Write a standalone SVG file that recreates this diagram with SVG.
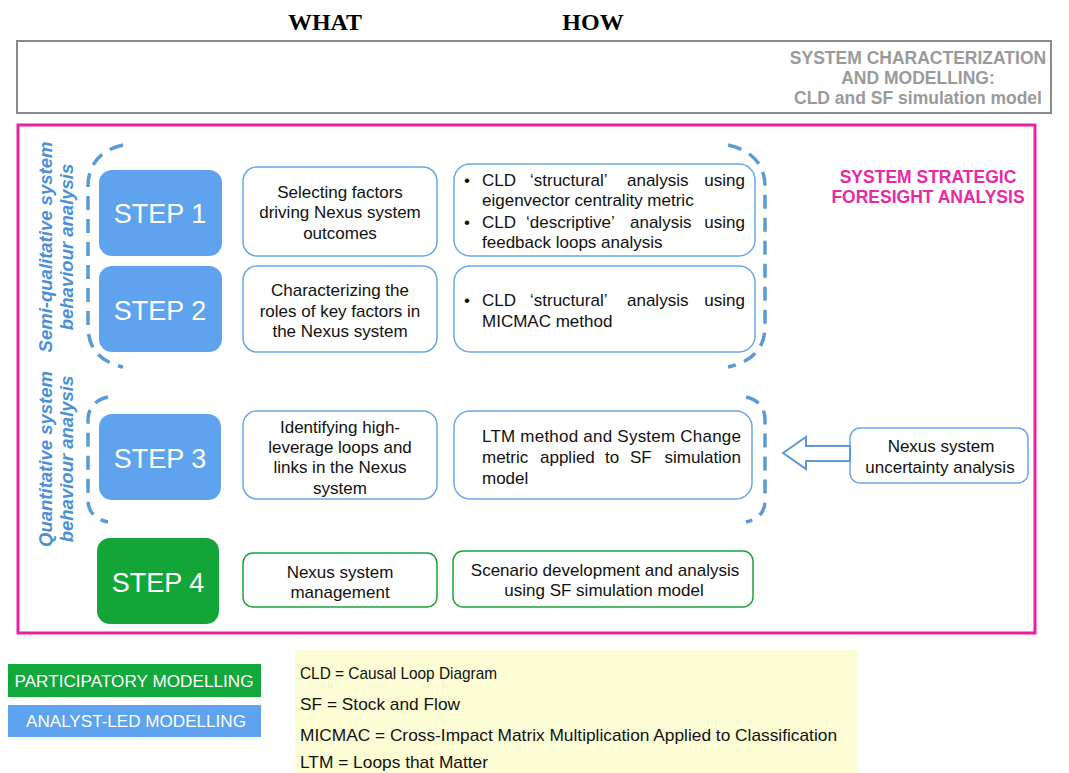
<svg xmlns="http://www.w3.org/2000/svg" width="1069" height="773" viewBox="0 0 1069 773">
<defs>
<style>
text{font-family:"Liberation Sans",Arial,sans-serif;}
.hdr{font-family:"Liberation Serif","Times New Roman",serif;font-weight:bold;font-size:24px;fill:#000;text-anchor:middle;}
.gray{font-weight:bold;font-size:17.5px;fill:#9a9a9a;text-anchor:middle;}
.mag{font-weight:bold;font-size:17.5px;fill:#e62aa6;text-anchor:middle;}
.vert{font-weight:bold;font-style:italic;font-size:18.5px;fill:#4a8fd8;text-anchor:middle;}
.step{fill:#5fa3ee;}
.stepg{fill:#13a538;}
.steptxt{font-size:27px;fill:#fff;text-anchor:middle;}
.box{fill:#fff;stroke:#6aa8e8;stroke-width:1.5;}
.boxg{fill:#fff;stroke:#1fa33a;stroke-width:1.5;}
.t{font-size:17px;fill:#111;}
.c{text-anchor:middle;}
.e{text-anchor:end;}
.br{fill:none;stroke:#5b9bd5;stroke-width:3.5;stroke-dasharray:14 9;}
.leg{font-size:17px;fill:#111;}
.legw{font-size:17px;fill:#fff;text-anchor:middle;}
</style>
</defs>
<rect width="1069" height="773" fill="#fff"/>

<text class="hdr" x="325" y="30">WHAT</text>
<text class="hdr" x="593" y="30">HOW</text>

<g id="system-characterization">
<rect x="17" y="41" width="1034" height="72" fill="#fff" stroke="#8a8a8a" stroke-width="2"/>
<text class="gray" x="918" y="64">SYSTEM CHARACTERIZATION</text>
<text class="gray" x="918" y="84">AND MODELLING:</text>
<text class="gray" x="918" y="104">CLD and SF simulation model</text>
</g>

<g id="strategic-foresight">
<rect x="18" y="125" width="1017" height="508" fill="#fff" stroke="#e91ea0" stroke-width="3"/>
<text class="mag" x="928" y="183">SYSTEM STRATEGIC</text>
<text class="mag" x="928" y="203">FORESIGHT ANALYSIS</text>
</g>

<g id="labels-vertical">
<text class="vert" transform="translate(52,247) rotate(-90)">Semi-qualitative system</text>
<text class="vert" transform="translate(73,247) rotate(-90)">behaviour analysis</text>
<text class="vert" transform="translate(52,459) rotate(-90)">Quantitative system</text>
<text class="vert" transform="translate(73,459) rotate(-90)">behaviour analysis</text>
</g>

<g id="brackets">
<path class="br" d="M123 145 C100 150 88 165 88 186 L88 327 C88 348 100 362 123 367"/>
<path class="br" d="M728 145 C752 150 765 165 765 186 L765 327 C765 348 752 362 728 367"/>
<path class="br" d="M108 397 C95 400 88 408 88 420 L88 500 C88 512 95 519 108 522"/>
<path class="br" d="M746 397 C759 400 765 408 765 420 L765 500 C765 512 759 519 746 522"/>
</g>

<g id="step1">
<rect class="step" x="99" y="170" width="123" height="86" rx="13"/>
<text class="steptxt" x="160" y="223">STEP 1</text>
</g>
<g id="step2">
<rect class="step" x="99" y="266" width="123" height="86" rx="13"/>
<text class="steptxt" x="160" y="320">STEP 2</text>
</g>
<g id="step3">
<rect class="step" x="99" y="414" width="122" height="86" rx="13"/>
<text class="steptxt" x="160" y="468">STEP 3</text>
</g>
<g id="step4">
<rect class="stepg" x="97" y="538" width="122" height="86" rx="13"/>
<text class="steptxt" x="158" y="592">STEP 4</text>
</g>

<g id="what1">
<rect class="box" x="243" y="167" width="194" height="89" rx="14"/>
<text class="t c" x="340" y="198">Selecting factors</text>
<text class="t c" x="340" y="218">driving Nexus system</text>
<text class="t c" x="340" y="239">outcomes</text>
</g>
<g id="what2">
<rect class="box" x="243" y="266" width="194" height="86" rx="14"/>
<text class="t c" x="340" y="296">Characterizing the</text>
<text class="t c" x="340" y="317">roles of key factors in</text>
<text class="t c" x="340" y="337">the Nexus system</text>
</g>
<g id="what3">
<rect class="box" x="243" y="411" width="194" height="88" rx="14"/>
<text class="t c" x="340" y="433">Identifying high-</text>
<text class="t c" x="340" y="453">leverage loops and</text>
<text class="t c" x="340" y="473">links in the Nexus</text>
<text class="t c" x="340" y="494">system</text>
</g>
<g id="what4">
<rect class="boxg" x="243" y="553" width="194" height="54" rx="10"/>
<text class="t c" x="340" y="578">Nexus system</text>
<text class="t c" x="340" y="598">management</text>
</g>

<g id="how1">
<rect class="box" x="454" y="164" width="301" height="92" rx="16"/>
<text class="t" x="464" y="186">•</text>
<text class="t" y="186"><tspan x="482">CLD</tspan><tspan x="530">‘structural’</tspan><tspan x="627">analysis</tspan><tspan x="745" class="e">using</tspan></text>
<text class="t" x="482" y="206">eigenvector centrality metric</text>
<text class="t" x="464" y="228">•</text>
<text class="t" y="228"><tspan x="482">CLD</tspan><tspan x="526">‘descriptive’</tspan><tspan x="630">analysis</tspan><tspan x="745" class="e">using</tspan></text>
<text class="t" x="482" y="248">feedback loops analysis</text>
</g>
<g id="how2">
<rect class="box" x="454" y="266" width="301" height="86" rx="16"/>
<text class="t" x="464" y="306">•</text>
<text class="t" y="306"><tspan x="482">CLD</tspan><tspan x="530">‘structural’</tspan><tspan x="627">analysis</tspan><tspan x="745" class="e">using</tspan></text>
<text class="t" x="482" y="327">MICMAC method</text>
</g>
<g id="how3">
<rect class="box" x="454" y="411" width="298" height="88" rx="16"/>
<text class="t" x="482" y="442" textLength="259" lengthAdjust="spacing">LTM method and System Change</text>
<text class="t" y="463"><tspan x="482">metric</tspan><tspan x="540">applied</tspan><tspan x="605">to</tspan><tspan x="630">SF</tspan><tspan x="741" class="e">simulation</tspan></text>
<text class="t" x="482" y="484">model</text>
</g>
<g id="how4">
<rect class="boxg" x="453" y="551" width="300" height="56" rx="10"/>
<text class="t c" x="605" y="576">Scenario development and analysis</text>
<text class="t c" x="604" y="596">using SF simulation model</text>
</g>

<g id="uncertainty">
<rect class="box" x="850" y="428" width="178" height="55" rx="10"/>
<text class="t c" x="941" y="452">Nexus system</text>
<text class="t c" x="940" y="473">uncertainty analysis</text>
</g>

<g id="connectors">
<polygon points="783,453 806,437 806,446 850,446 850,461 806,461 806,469" fill="#fff" stroke="#5b9bd5" stroke-width="2" stroke-linejoin="miter"/>
</g>

<g id="legend-participatory">
<rect x="8" y="664" width="253" height="33" fill="#12a83c"/>
<text class="legw" x="134" y="687" textLength="239" lengthAdjust="spacingAndGlyphs">PARTICIPATORY MODELLING</text>
</g>
<g id="legend-analyst">
<rect x="8" y="705" width="253" height="32" fill="#5ea3ef"/>
<text class="legw" x="136" y="727" textLength="220" lengthAdjust="spacingAndGlyphs">ANALYST-LED MODELLING</text>
</g>

<g id="legend-abbrev">
<rect x="295" y="650" width="563" height="123" fill="#fdfdd5"/>
<text class="leg" x="300" y="679" textLength="197" lengthAdjust="spacingAndGlyphs">CLD = Causal Loop Diagram</text>
<text class="leg" x="300" y="710" textLength="160" lengthAdjust="spacingAndGlyphs">SF = Stock and Flow</text>
<text class="leg" x="300" y="741" textLength="537" lengthAdjust="spacingAndGlyphs">MICMAC = Cross-Impact Matrix Multiplication Applied to Classification</text>
<text class="leg" x="300" y="768" textLength="188" lengthAdjust="spacingAndGlyphs">LTM = Loops that Matter</text>
</g>
</svg>
